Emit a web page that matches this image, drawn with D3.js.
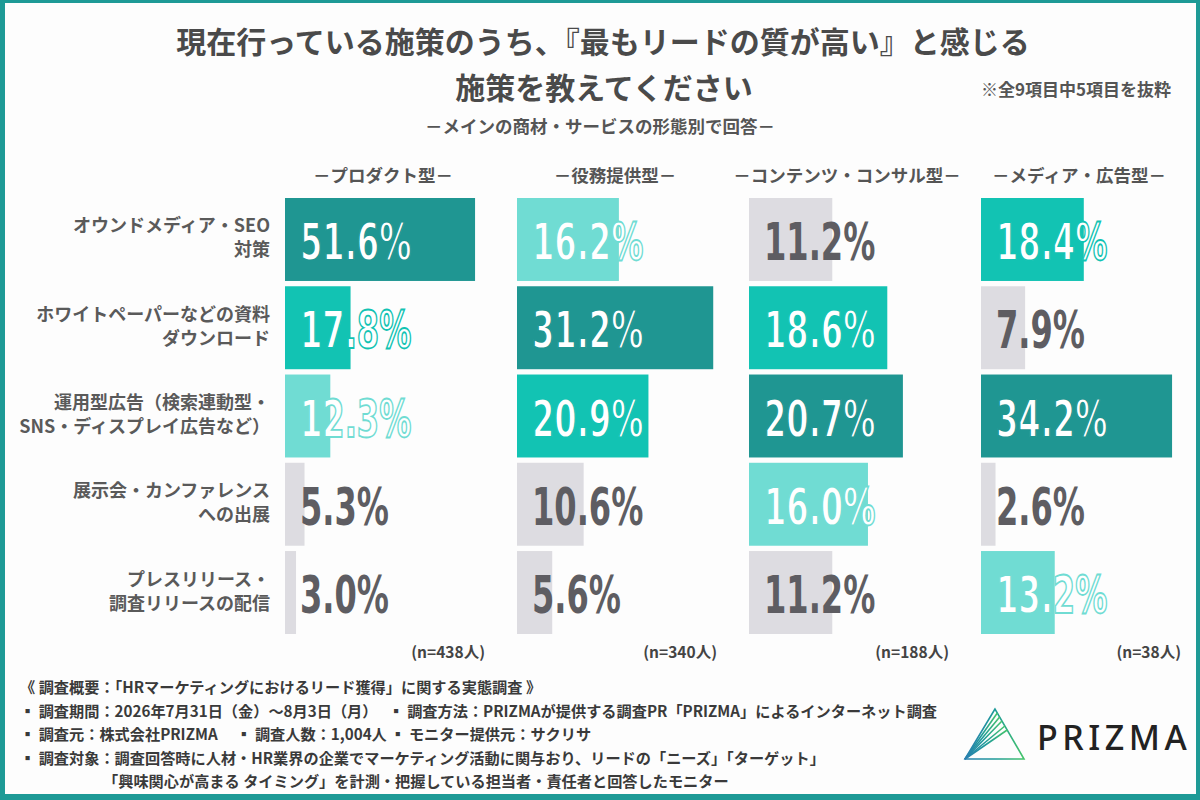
<!DOCTYPE html>
<meta charset="utf-8">
<style>
body { margin: 0; background: #fff; }
.jp { font-family: "Noto Sans CJK JP", "Noto Sans", sans-serif; font-weight: bold; }
.num { font-family: "Liberation Sans Narrow", "DejaVu Sans Condensed", sans-serif; font-weight: bold; }
</style>
<svg class="canvas"></svg>
<script src="https://cdn.jsdelivr.net/npm/d3@7"></script>
<script>

var categories = [
	["オウンドメディア・SEO", "対策"],
	["ホワイトペーパーなどの資料", "ダウンロード"],
	["運用型広告（検索連動型・", "SNS・ディスプレイ広告など）"],
	["展示会・カンファレンス", "への出展"],
	["プレスリリース・", "調査リリースの配信"]
];
var panels = ["－プロダクト型－", "－役務提供型－", "－コンテンツ・コンサル型－", "－メディア・広告型－"];
var sampleSizes = ["(n=438人)", "(n=340人)", "(n=188人)", "(n=38人)"];
var productValues = [51.6, 17.8, 12.3, 5.3, 3.0];
var serviceValues = [16.2, 31.2, 20.9, 10.6, 5.6];
var contentValues = [11.2, 18.6, 20.7, 16.0, 11.2];
var mediaValues = [18.4, 7.9, 34.2, 2.6, 13.2];
var panelScaleMax = [54.3, 31.8, 26.9, 35.8];
var footerLines = [
	"《 調査概要：「HRマーケティングにおけるリード獲得」に関する実態調査 》",
	"▪ 調査期間：2026年7月31日（金）～8月3日（月）　 ▪ 調査方法：PRIZMAが提供する調査PR「PRIZMA」によるインターネット調査",
	"▪ 調査元：株式会社PRIZMA　 ▪ 調査人数：1,004人 ▪ モニター提供元：サクリサ",
	"▪ 調査対象：調査回答時に人材・HR業界の企業でマーケティング活動に関与おり、リードの「ニーズ」「ターゲット」",
	"「興味関心が高まる タイミング」を計測・把握している担当者・責任者と回答したモニター"
];

var seriesValues = [productValues, serviceValues, contentValues, mediaValues];

var RANK_COLORS = ["#1f9692", "#12c3b3", "#70dcd3"];
var GRAY = "#dddce1";
var TEAL_FRAME = "#1e9a96";
var BAR_W = 200;

var width = 1200,
	height = 800;

var canvas = d3.select(".canvas")
	.attr("width", width)
	.attr("height", height);

canvas.append("rect")
	.attr("width", width)
	.attr("height", height)
	.attr("fill", "#fdfdfd");

// frame
canvas.append("rect").attr("x", 0).attr("y", 0).attr("width", 5).attr("height", height).attr("fill", TEAL_FRAME);
canvas.append("rect").attr("x", 1196).attr("y", 0).attr("width", 4).attr("height", height).attr("fill", TEAL_FRAME);
canvas.append("rect").attr("x", 0).attr("y", 0).attr("width", width).attr("height", 3).attr("fill", TEAL_FRAME);
canvas.append("rect").attr("x", 0).attr("y", 794).attr("width", width).attr("height", 6).attr("fill", TEAL_FRAME);

// titles
canvas.append("text").attr("class", "jp")
	.attr("x", 603).attr("y", 53)
	.attr("text-anchor", "middle")
	.attr("font-size", 30).attr("fill", "#4a4a4a")
	.text("現在行っている施策のうち、『最もリードの質が高い』と感じる");
canvas.append("text").attr("class", "jp")
	.attr("x", 604).attr("y", 99)
	.attr("text-anchor", "middle")
	.attr("font-size", 30).attr("fill", "#4a4a4a")
	.text("施策を教えてください");
canvas.append("text").attr("class", "jp")
	.attr("x", 1171).attr("y", 96)
	.attr("text-anchor", "end")
	.attr("font-size", 17).attr("fill", "#555")
	.text("※全9項目中5項目を抜粋");
canvas.append("text").attr("class", "jp")
	.attr("x", 600).attr("y", 133)
	.attr("text-anchor", "middle")
	.attr("font-size", 17.5).attr("fill", "#555")
	.text("－メインの商材・サービスの形態別で回答－");

var y = d3.scaleBand()
	.domain(d3.range(categories.length))
	.range([198, 634])
	.paddingInner(0.06);

var px = d3.scaleBand()
	.domain(panels)
	.range([285, 1213]);

// category labels
var cat = canvas.selectAll("g.cat").data(categories)
	.enter().append("g")
	.attr("class", "cat")
	.attr("transform", function(d, i) { return "translate(270," + (y(i) + y.bandwidth() / 2) + ")"; });

cat.selectAll("text").data(function(d) { return d; })
	.enter().append("text")
	.attr("class", "jp")
	.attr("text-anchor", "end")
	.attr("font-size", 18)
	.attr("fill", "#5a5a5a")
	.attr("y", function(d, i) { return i === 0 ? -7 : 17; })
	.text(function(d) { return d; });

// panels
panels.forEach(function(name, p) {
	var vals = seriesValues[p];
	var x = d3.scaleLinear().domain([0, panelScaleMax[p]]).range([0, BAR_W]);
	var order = vals.map(function(v, i) { return i; }).sort(function(a, b) { return vals[b] - vals[a]; });
	var rank = [];
	order.forEach(function(idx, r) { rank[idx] = r; });
	function color(i) { return rank[i] < 3 ? RANK_COLORS[rank[i]] : GRAY; }

	var g = canvas.append("g")
		.attr("transform", "translate(" + px(name) + ",0)");

	g.append("text").attr("class", "jp")
		.attr("x", 98).attr("y", 182)
		.attr("text-anchor", "middle")
		.attr("font-size", 17.5).attr("fill", "#555")
		.text(name);

	g.selectAll("rect").data(vals)
		.enter().append("rect")
		.attr("x", 0)
		.attr("y", function(d, i) { return y(i); })
		.attr("width", function(d) { return x(d); })
		.attr("height", y.bandwidth())
		.attr("fill", function(d, i) { return color(i); });

	g.selectAll("text.num").data(vals)
		.enter().append("text")
		.attr("class", "num")
		.attr("font-size", 51)
		.attr("transform", function(d, i) {
			return "translate(15," + (y(i) + y.bandwidth() / 2 + 20.5) + ") scale(0.7,1)"; })
		.attr("fill", function(d, i) { return rank[i] < 3 ? "#fff" : "#5e5d62"; })
		.attr("stroke", function(d, i) { return rank[i] < 3 ? color(i) : "none"; })
		.attr("stroke-width", 1.8)
		.text(function(d) { return d.toFixed(1) + "%"; });

	g.append("text").attr("class", "jp")
		.attr("x", 200).attr("y", 658)
		.attr("text-anchor", "end")
		.attr("font-size", 15.5).attr("fill", "#444")
		.text(sampleSizes[p]);
});

// footer
canvas.selectAll("text.foot").data(footerLines)
	.enter().append("text")
	.attr("class", "jp foot")
	.attr("x", function(d, i) { return i === 4 ? 103 : 20; })
	.attr("y", function(d, i) { return 693 + i * 23.5; })
	.attr("font-size", 15.2)
	.attr("fill", "#3a3a3a")
	.text(function(d) { return d; });

// logo
var grad = canvas.append("defs").append("linearGradient")
	.attr("id", "logoGrad")
	.attr("x1", "0").attr("y1", "0").attr("x2", "1").attr("y2", "0");
grad.append("stop").attr("offset", "0").attr("stop-color", "#2a7fb0");
grad.append("stop").attr("offset", "0.5").attr("stop-color", "#1e9a9a");
grad.append("stop").attr("offset", "1").attr("stop-color", "#45c46a");

var apex = [995, 709], bl = [965, 759], br = [1024, 759];
var logo = canvas.append("g").attr("fill", "none").attr("stroke", "url(#logoGrad)").attr("stroke-width", 1.6);
logo.append("path").attr("d", "M" + apex + "L" + bl + "L" + br + "Z");
[0.08, 0.16, 0.24, 0.34, 0.42].forEach(function(t) {
	var pt = [apex[0] + (br[0] - apex[0]) * t, apex[1] + (br[1] - apex[1]) * t];
	logo.append("line")
		.attr("x1", bl[0]).attr("y1", bl[1])
		.attr("x2", pt[0]).attr("y2", pt[1]);
});
canvas.append("text")
	.attr("x", 1037).attr("y", 750)
	.attr("font-family", "Noto Sans, sans-serif")
	.attr("font-size", 34)
	.attr("font-weight", 500)
	.attr("letter-spacing", 4.5)
	.attr("fill", "#222")
	.text("PRIZMA");

</script>
